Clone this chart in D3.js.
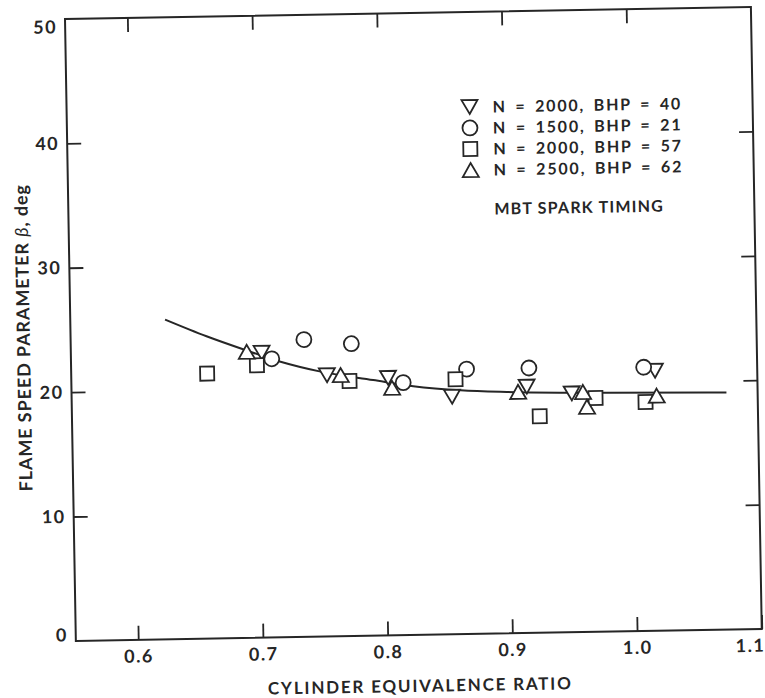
<!DOCTYPE html>
<html>
<head>
<meta charset="utf-8">
<script src="https://cdn.jsdelivr.net/npm/d3@7"></script>
<style>
  body { margin: 0; background: #fff; }
  text { font-family: Lato, "Noto Sans", sans-serif; font-weight: 700; fill: #262626; }
</style>
</head>
<body>
<div id="drawing"></div>
<script>
// chart values
const xTicks = [0.6, 0.7, 0.8, 0.9, 1.0, 1.1];
const yTicks = [0, 10, 20, 30, 40, 50];

// N = 2000, BHP = 40 (triangle down)
const downX = [0.703, 0.755, 0.804, 0.855, 0.915, 0.951, 1.018];
const downY = [22.9, 21.0, 20.7, 19.1, 19.8, 19.2, 20.9];
// N = 1500, BHP = 21 (circle)
const circX = [0.711, 0.737, 0.775, 0.816, 0.867, 0.917, 1.009];
const circY = [22.4, 23.9, 23.5, 20.3, 21.3, 21.3, 21.2];
// N = 2000, BHP = 57 (square)
const sqX = [0.659, 0.699, 0.773, 0.858, 0.925, 0.970, 1.010];
const sqY = [21.3, 21.9, 20.5, 20.5, 17.4, 18.8, 18.4];
// N = 2500, BHP = 62 (triangle up)
const upX = [0.691, 0.766, 0.807, 0.908, 0.960, 0.963, 1.019];
const upY = [23.0, 21.0, 19.9, 19.4, 19.3, 18.1, 18.9];

// faired curve
const curveX = [0.626, 0.659, 0.691, 0.718, 0.750, 0.792, 0.824, 0.862, 0.899, 0.979, 1.075];
const curveY = [25.7, 24.3, 23.1, 22.15, 21.3, 20.55, 20.0, 19.6, 19.4, 19.2, 19.05];

const legendLabels = [
  "N = 2000, BHP = 40",
  "N = 1500, BHP = 21",
  "N = 2000, BHP = 57",
  "N = 2500, BHP = 62"
];
const legendShapes = ["down", "circle", "square", "up"];

const width = 765;
const height = 698;
const plotW = 686;
const plotH = 622;
const ink = "#262626";

const svg = d3.select("#drawing").append("svg")
  .attr("width", width)
  .attr("height", height)
  .style("background", "#fff");

// the scan is slightly tilted, so the whole figure is turned a bit
const g = svg.append("g")
  .attr("transform", "translate(65,19) rotate(-1)");

const x = d3.scaleLinear().domain([0.55, 1.1]).range([0, plotW]);
const y = d3.scaleLinear().domain([0, 50]).range([plotH, 0]);

// frame
g.append("rect")
  .attr("width", plotW)
  .attr("height", plotH)
  .attr("fill", "none")
  .attr("stroke", ink)
  .attr("stroke-width", 2);

function styleAxis(sel) {
  sel.select(".domain").remove();
  sel.selectAll(".tick line").attr("stroke", ink).attr("stroke-width", 1.8);
  sel.selectAll(".tick text")
    .style("font-size", "18px")
    .style("font-family", "Lato, sans-serif")
    .style("font-weight", 700)
    .style("letter-spacing", "1.5px")
    .attr("fill", ink);
}

// bottom
g.append("g")
  .attr("transform", `translate(0,${plotH})`)
  .call(d3.axisBottom(x).tickValues(xTicks).tickSize(-14).tickPadding(10)
    .tickFormat(d3.format(".1f")))
  .call(styleAxis)
  .selectAll(".tick")
  .filter(d => d === 1.1)
  .select("text").attr("x", -12);

// top
g.append("g")
  .call(d3.axisTop(x).tickValues(xTicks.slice(0, 5)).tickSize(-14).tickFormat(""))
  .call(styleAxis);

// left
const left = g.append("g")
  .call(d3.axisLeft(y).tickValues(yTicks).tickSize(-14).tickPadding(8))
  .call(styleAxis);
left.selectAll(".tick line").filter(d => d === 0 || d === 50).remove();
left.selectAll(".tick").filter(d => d === 50).select("text").attr("y", 8);
left.selectAll(".tick").filter(d => d === 0).select("text").attr("y", -6);

// right
g.append("g")
  .attr("transform", `translate(${plotW},0)`)
  .call(d3.axisRight(y).tickValues(yTicks.slice(1, 5)).tickSize(-14).tickFormat(""))
  .call(styleAxis);

// axis titles
g.append("text")
  .attr("x", x(0.8255))
  .attr("y", plotH + 57)
  .attr("text-anchor", "middle")
  .style("font-size", "17px")
  .style("letter-spacing", "1.8px")
  .text("CYLINDER EQUIVALENCE RATIO");

const yTitle = g.append("text")
  .attr("transform", `translate(-47,${plotH / 2 + 7}) rotate(-90)`)
  .attr("text-anchor", "middle")
  .attr("dy", "0.35em")
  .style("font-size", "18px")
  .style("letter-spacing", "0.9px");
yTitle.append("tspan").text("FLAME SPEED PARAMETER  ");
yTitle.append("tspan").style("font-style", "italic").style("font-weight", 400).text("β");
yTitle.append("tspan").text(", deg");

// marker shapes, centred on their bounding box
function shapePath(kind) {
  const w = 16, h = 14, s = 14;
  if (kind === "up") return `M0,${-h / 2}L${w / 2},${h / 2}L${-w / 2},${h / 2}Z`;
  if (kind === "down") return `M0,${h / 2}L${w / 2},${-h / 2}L${-w / 2},${-h / 2}Z`;
  if (kind === "square") return `M${-s / 2},${-s / 2}h${s}v${s}h${-s}Z`;
  return d3.arc()({innerRadius: 0, outerRadius: 7.5, startAngle: 0, endAngle: 2 * Math.PI});
}

// curve
const line = d3.line()
  .x(d => x(d[0]))
  .y(d => y(d[1]))
  .curve(d3.curveMonotoneX);

g.append("path")
  .datum(d3.zip(curveX, curveY))
  .attr("d", line)
  .attr("fill", "none")
  .attr("stroke", ink)
  .attr("stroke-width", 2);

const series = [
  {kind: "down", xs: downX, ys: downY},
  {kind: "circle", xs: circX, ys: circY},
  {kind: "square", xs: sqX, ys: sqY},
  {kind: "up", xs: upX, ys: upY}
];

series.forEach(s => {
  g.selectAll(null)
    .data(d3.zip(s.xs, s.ys))
    .enter()
    .append("path")
      .attr("d", shapePath(s.kind))
      .attr("transform", d => `translate(${x(d[0])},${y(d[1])})`)
      .attr("fill", "#fff")
      .attr("stroke", ink)
      .attr("stroke-width", 1.8);
});

// legend
const legend = g.append("g").attr("transform", "translate(403,95)");
legendLabels.forEach((lab, i) => {
  legend.append("path")
    .attr("d", shapePath(legendShapes[i]))
    .attr("transform", `translate(0,${i * 21})`)
    .attr("fill", "#fff")
    .attr("stroke", ink)
    .attr("stroke-width", 1.8);
  legend.append("text")
    .attr("x", 23)
    .attr("y", i * 21 + 6)
    .style("font-size", "16px")
    .style("letter-spacing", "1.8px")
    .style("word-spacing", "3px")
    .text(lab);
});
legend.append("text")
  .attr("x", 23)
  .attr("y", 108)
  .style("font-size", "16px")
  .style("letter-spacing", "1.2px")
  .text("MBT SPARK TIMING");
</script>
</body>
</html>
